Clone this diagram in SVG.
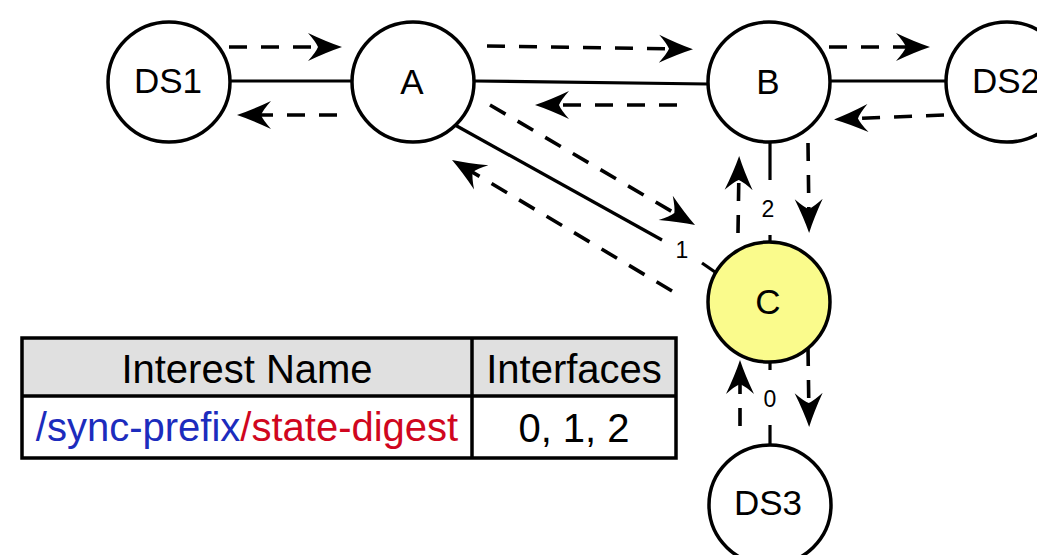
<svg xmlns="http://www.w3.org/2000/svg" width="1037" height="555" viewBox="0 0 1037 555">
<style>
.node{fill:#fff;stroke:#000;stroke-width:3.5}
.lbl{font-family:"Liberation Sans",Arial,sans-serif;font-size:35px;text-anchor:middle;fill:#000}
.solid{stroke:#000;stroke-width:3.2;fill:none}
.dash{stroke:#000;stroke-width:3.6;fill:none;stroke-dasharray:18 14}
.port{font-family:"Liberation Sans",Arial,sans-serif;font-size:23px;text-anchor:middle;fill:#000}
.tbl{font-family:"Liberation Sans",Arial,sans-serif;font-size:40px;text-anchor:middle;fill:#000}
</style>
<defs>
<marker id="ah" markerUnits="userSpaceOnUse" viewBox="-38 -16 42 32" markerWidth="42" markerHeight="32" refX="-10" refY="0" orient="auto">
<path d="M0,0 Q-15,-5 -34,-14 Q-26,-5 -24,0 Q-26,5 -34,14 Q-15,5 0,0 Z" fill="#000"/>
</marker>
</defs>
<g id="connectors">
<line class="solid" x1="230" y1="81" x2="352" y2="81"/>
<line class="solid" x1="475" y1="81" x2="708" y2="84"/>
<line class="solid" x1="830" y1="81" x2="946" y2="81"/>
<line class="solid" x1="455" y1="125" x2="662" y2="240"/>
<line class="solid" x1="702" y1="263" x2="715" y2="272"/>
<line class="solid" x1="770" y1="141" x2="770" y2="180"/>
<line class="solid" x1="770" y1="235" x2="770" y2="243"/>
<line class="solid" x1="770" y1="362" x2="770" y2="370"/>
<line class="solid" x1="770" y1="425" x2="770" y2="445"/>
<text class="port" x="682" y="258">1</text>
<text class="port" x="768" y="217">2</text>
<text class="port" x="770" y="407">0</text>
<line class="dash" x1="229" y1="47" x2="332" y2="47" marker-end="url(#ah)"/>
<line class="dash" x1="337" y1="115" x2="247" y2="115" marker-end="url(#ah)"/>
<line class="dash" x1="487" y1="46" x2="683" y2="49" marker-end="url(#ah)"/>
<line class="dash" x1="677" y1="105" x2="545" y2="105" marker-end="url(#ah)"/>
<line class="dash" x1="829" y1="47" x2="920" y2="47" marker-end="url(#ah)"/>
<line class="dash" x1="944" y1="115" x2="844" y2="119" marker-end="url(#ah)"/>
<line class="dash" x1="490" y1="105" x2="686.4" y2="220" marker-end="url(#ah)"/>
<line class="dash" x1="672" y1="291" x2="460.6" y2="165.1" marker-end="url(#ah)"/>
<line class="dash" x1="738" y1="233" x2="739" y2="166" marker-end="url(#ah)"/>
<line class="dash" x1="808" y1="143" x2="809" y2="223" marker-end="url(#ah)"/>
<line class="dash" x1="740" y1="426" x2="740" y2="370" marker-end="url(#ah)"/>
<line class="dash" x1="808" y1="348" x2="809" y2="417" marker-end="url(#ah)"/>
</g>
<g id="DS1"><ellipse class="node" cx="169" cy="82" rx="61" ry="60"/><text class="lbl" x="168" y="93">DS1</text></g>
<g id="A"><ellipse class="node" cx="413" cy="82" rx="61" ry="60"/><text class="lbl" x="412" y="94">A</text></g>
<g id="B"><ellipse class="node" cx="769" cy="82" rx="61" ry="60"/><text class="lbl" x="768" y="94">B</text></g>
<g id="DS2"><ellipse class="node" cx="1007" cy="82" rx="61" ry="60"/><text class="lbl" x="1006" y="93">DS2</text></g>
<g id="C"><ellipse cx="769" cy="302" rx="61" ry="60" fill="#fafb8c" stroke="#000" stroke-width="3.5"/><text class="lbl" x="768" y="314">C</text></g>
<g id="DS3"><ellipse class="node" cx="770" cy="505" rx="61" ry="60"/><text class="lbl" x="768" y="515">DS3</text></g>
<g id="table">
<rect x="22" y="338" width="654" height="58" fill="#e0e0e0"/>
<rect x="22" y="338" width="654" height="120" fill="none" stroke="#000" stroke-width="3.5"/>
<line x1="22" y1="396" x2="676" y2="396" stroke="#000" stroke-width="3.5"/>
<line x1="472" y1="338" x2="472" y2="458" stroke="#000" stroke-width="3.5"/>
<text class="tbl" x="247" y="383">Interest Name</text>
<text class="tbl" x="574" y="383">Interfaces</text>
<text class="tbl" x="247" y="441"><tspan fill="#1c2cbd">/sync-prefix</tspan><tspan fill="#d0061e">/state-digest</tspan></text>
<text class="tbl" x="574" y="442">0, 1, 2</text>
</g>
</svg>
